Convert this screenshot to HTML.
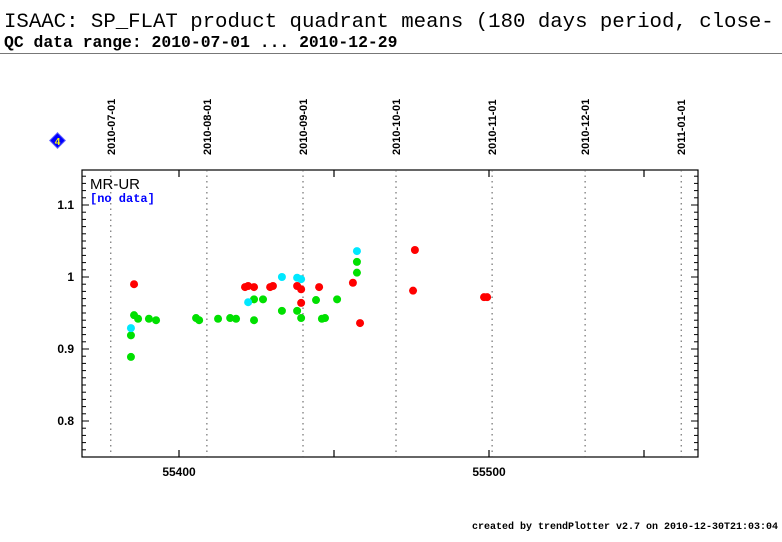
<!DOCTYPE html>
<html><head><meta charset="utf-8"><style>
body{margin:0;background:#fff;}
svg{display:block;font-family:"Liberation Sans",sans-serif;}
</style></head><body>
<svg id="chart" width="782" height="542" viewBox="0 0 782 542" xmlns="http://www.w3.org/2000/svg">
<text x="4" y="27" font-family="Liberation Mono, monospace" font-size="20.7" fill="#000">ISAAC: SP_FLAT product quadrant means (180 days period, close-</text>
<text x="4" y="47" font-family="Liberation Mono, monospace" font-size="16.4" font-weight="bold" fill="#000">QC data range: 2010-07-01 ... 2010-12-29</text>
<line x1="0" y1="53.5" x2="782" y2="53.5" stroke="#777" stroke-width="1"/>
<g>
<rect x="52" y="135" width="11" height="11" fill="#0000ff" stroke="#6666ff" transform="rotate(45 57.5 140.5)"/>
<text x="57.5" y="145" font-size="10" font-weight="bold" fill="#ffff00" text-anchor="middle">4</text>
</g>
<rect x="82" y="170" width="616" height="287" fill="none" stroke="#000" stroke-width="1.2"/>
<g id="grid"></g><g id="ticks"></g><g id="points"></g>
<text x="90" y="189" font-family="Liberation Sans, sans-serif" font-size="15" fill="#000">MR-UR</text>
<text x="90" y="202" font-family="Liberation Mono, monospace" font-size="12" font-weight="bold" fill="#0000ff">[no data]</text>
<text x="778" y="529" font-family="Liberation Mono, monospace" font-size="10" font-weight="bold" text-anchor="end" fill="#000">created by trendPlotter v2.7 on 2010-12-30T21:03:04</text>
</svg>
<script>
const dateLabels=["2010-07-01","2010-08-01","2010-09-01","2010-10-01","2010-11-01","2010-12-01","2011-01-01"];
const dateMjd=[55378,55409,55440,55470,55501,55531,55562];
const xTicks=[55400,55500];
const yTicks=[0.8,0.9,1.0,1.1];
const yTickLabels=["0.8","0.9","1","1.1"];
const redX=[55385.5,55421.3,55422.3,55424.2,55429.4,55430.3,55438.1,55439.4,55439.4,55445.2,55456.1,55458.4,55476.1,55475.5,55498.4,55499.4];
const redY=[0.990,0.986,0.9875,0.986,0.986,0.9875,0.9875,0.983,0.964,0.986,0.992,0.936,1.0375,0.981,0.972,0.972];
const cyanX=[55384.5,55422.3,55433.2,55438.1,55439.4,55457.4];
const cyanY=[0.929,0.965,1.0,0.999,0.997,1.036];
const greenX=[55384.5,55384.5,55385.5,55386.8,55390.3,55392.6,55405.5,55406.5,55412.6,55416.5,55418.4,55424.2,55424.2,55427.1,55433.2,55438.1,55439.4,55444.2,55446.1,55447.1,55451,55457.4,55457.4];
const greenY=[0.889,0.919,0.947,0.942,0.942,0.940,0.943,0.940,0.942,0.943,0.942,0.969,0.940,0.969,0.953,0.953,0.943,0.968,0.942,0.943,0.969,1.006,1.021];
const NS="http://www.w3.org/2000/svg";
const L=82,R=698,T=170,B=457;
function xs(m){return 179+(m-55400)*3.1;}
function ys(v){return 277-(v-1)*720;}
function mk(t,a,p){const e=document.createElementNS(NS,t);for(const k in a)e.setAttribute(k,a[k]);p.appendChild(e);return e;}
const grid=document.getElementById('grid'),ticks=document.getElementById('ticks'),pts=document.getElementById('points'),svg=document.getElementById('chart');
dateMjd.forEach((m,i)=>{
 const x=xs(m);
 const g=mk('line',{x1:x,y1:T,x2:x,y2:B,stroke:'#555','stroke-width':1,'stroke-dasharray':'1.5,4'},grid);
 
 
 const t=mk('text',{x:0,y:0,'font-size':11,'font-weight':'bold',fill:'#000',transform:`translate(${x+4},155) rotate(-90)`},svg);
 t.textContent=dateLabels[i];
 
 
});
for(let m=55350;m<=55600;m+=50){const x=xs(m);if(x<L||x>R)continue;
 mk('line',{x1:x,y1:B,x2:x,y2:B-7,stroke:'#000','stroke-width':1.2},ticks);mk('line',{x1:x,y1:T,x2:x,y2:T+7,stroke:'#000','stroke-width':1.2},ticks);}
xTicks.forEach(m=>{const t=mk('text',{x:xs(m),y:476,'font-size':12,'font-weight':'bold','text-anchor':'middle'},svg);t.textContent=String(m);
 
 });
for(let k=75;k<=114;k++){const v=k/100,y=ys(v);if(y<T||y>B)continue;const len=(k%10==0)?7:4;
 mk('line',{x1:L,y1:y,x2:L+len,y2:y,stroke:'#000'},ticks);mk('line',{x1:R,y1:y,x2:R-len,y2:y,stroke:'#000'},ticks);}
yTicks.forEach((v,i)=>{const t=mk('text',{x:74,y:ys(v)+4,'font-size':12,'font-weight':'bold','text-anchor':'end'},svg);t.textContent=yTickLabels[i];
 
 });
function series(X,Y,col,name){X.forEach((m,i)=>{const c=mk('circle',{cx:xs(m),cy:ys(Y[i]),r:4,fill:col},pts);
 
 });}
series(greenX,greenY,'#00e000','point-green');
series(cyanX,cyanY,'#00e8ff','point-cyan');
series(redX,redY,'#ff0000','point-red');
</script>
</body></html>
